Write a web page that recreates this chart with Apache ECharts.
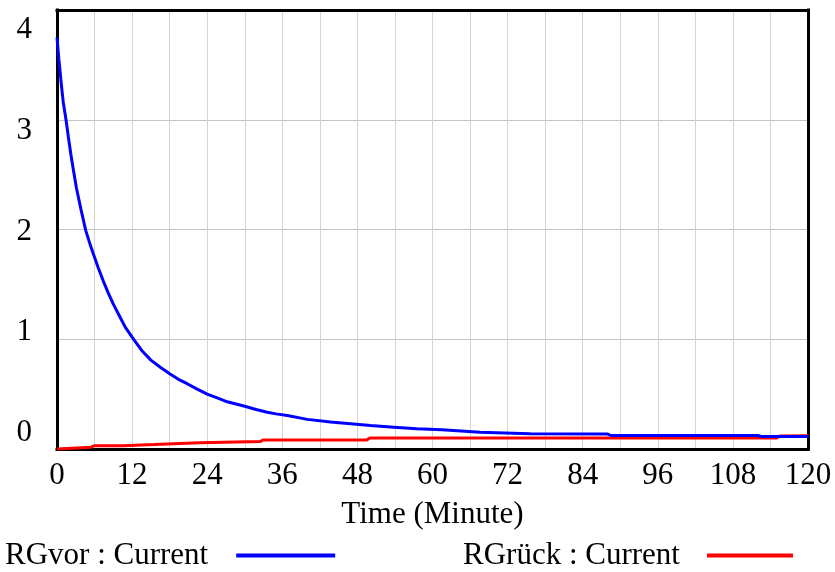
<!DOCTYPE html>
<html><head><meta charset="utf-8">
<script src="https://cdn.jsdelivr.net/npm/echarts@6/dist/echarts.min.js"></script>
<style>html,body{margin:0;padding:0;background:#fff}#c{width:835px;height:572px}</style>
</head><body><div id="c"></div>
<script>
const blueTime   = [0, 0.3, 0.75, 1.0, 1.44, 1.8, 2.2, 2.6, 3.1, 3.8, 4.6, 5.2, 5.8, 6.6, 7.4, 8.2, 9, 10, 10.9, 12, 13.5, 15, 16.5, 18, 19.4, 20.8, 22.4, 24, 25.6, 27.2, 28.6, 30, 31.8, 33.6, 35, 36.8, 40, 43.7, 46.9, 50.1, 53.8, 57.5, 61.5, 67.6, 75.6, 88, 88.5, 112, 112.5, 120];
const blueValues = [3.75, 3.55, 3.29, 3.16, 3.0, 2.85, 2.69, 2.55, 2.38, 2.19, 1.99, 1.88, 1.78, 1.65, 1.53, 1.42, 1.32, 1.21, 1.11, 1.02, 0.9, 0.81, 0.745, 0.685, 0.635, 0.595, 0.545, 0.50, 0.465, 0.43, 0.41, 0.39, 0.36, 0.335, 0.32, 0.305, 0.27, 0.245, 0.23, 0.214, 0.199, 0.184, 0.175, 0.153, 0.138, 0.136, 0.123, 0.123, 0.114, 0.114];
const redTime    = [0, 5.4, 5.9, 10.5, 10.7, 15.5, 15.8, 22.8, 23.1, 32.5, 32.9, 49.5, 50, 115, 115.5, 120];
const redValues  = [0, 0.015, 0.03, 0.03, 0.04, 0.04, 0.056, 0.056, 0.068, 0.068, 0.083, 0.083, 0.10, 0.10, 0.118, 0.12];
const yTickLabels = [0, 1, 2, 3, 4];
const seriesNames = ['RGvor : Current', 'RGrück : Current'];
const xTitle = 'Time (Minute)';

const zip = (a, b) => a.map((t, i) => [t, b[i]]);
const FONT = 'Liberation Serif';
const FS = 31;
const frame = { show: true, onZero: false, lineStyle: { color: '#000', width: 3, cap: 'square' } };
const chart = echarts.init(document.getElementById('c'));
chart.setOption({
  animation: false,
  textStyle: { fontFamily: FONT },
  grid: { left: 57, right: 27, top: 10, bottom: 123 },
  xAxis: [{
    type: 'value', min: 0, max: 120, interval: 6, position: 'bottom',
    axisLine: frame, axisTick: { show: false },
    splitLine: { show: true, lineStyle: { color: '#d4d4d4', width: 1 } },
    axisLabel: { color: '#000', fontSize: FS, fontFamily: FONT, margin: 11,
      formatter: v => (v % 12 === 0 ? String(v) : '') },
    name: xTitle, nameLocation: 'middle', nameGap: 50,
    nameTextStyle: { color: '#000', fontSize: FS, fontFamily: FONT }
  }, {
    type: 'value', min: 0, max: 120, position: 'top',
    axisLine: frame, axisTick: { show: false }, axisLabel: { show: false }, splitLine: { show: false }
  }],
  yAxis: [{
    type: 'value', min: 0, max: 4, interval: 1, position: 'left',
    axisLine: frame, axisTick: { show: false }, axisLabel: { show: false },
    splitLine: { show: true, lineStyle: { color: '#c4c4c4', width: 1 } }
  }, {
    type: 'value', position: 'left', min: -0.1588, max: 4.1985,
    axisLine: { show: false }, axisTick: { show: false }, splitLine: { show: false },
    axisLabel: { customValues: yTickLabels, color: '#000', fontSize: FS, fontFamily: FONT, margin: 25 }
  }, {
    type: 'value', position: 'right', min: 0, max: 4,
    axisLine: frame, axisTick: { show: false }, axisLabel: { show: false }, splitLine: { show: false }
  }],
  legend: [{
    data: [seriesNames[0]], left: 5, top: 540, align: 'right', icon: 'rect',
    itemWidth: 99, itemHeight: 4, padding: 0,
    textStyle: { color: '#000', fontSize: FS, fontFamily: FONT, padding: [0, 23, 0, 0] }
  }, {
    data: [seriesNames[1]], left: 463, top: 540, align: 'right', icon: 'rect',
    itemWidth: 86, itemHeight: 4, padding: 0,
    textStyle: { color: '#000', fontSize: FS, fontFamily: FONT, padding: [0, 22, 0, 0] }
  }],
  series: [{
    name: seriesNames[0], type: 'line', data: zip(blueTime, blueValues), showSymbol: false,
    lineStyle: { color: '#0000ff', width: 3 }, itemStyle: { color: '#0000ff' }, z: 3
  }, {
    name: seriesNames[1], type: 'line', data: zip(redTime, redValues), showSymbol: false,
    lineStyle: { color: '#ff0000', width: 3 }, itemStyle: { color: '#ff0000' }, z: 2
  }]
});
</script></body></html>
